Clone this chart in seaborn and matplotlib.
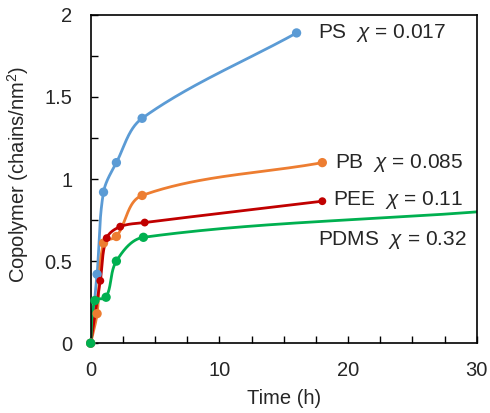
import numpy as np
import pandas as pd
import seaborn as sns
import matplotlib.pyplot as plt

# data (time in h, copolymer in chains/nm^2)
ps_t = [0, 0.5, 1, 2, 4, 16]
ps_y = [0, 0.42, 0.92, 1.10, 1.37, 1.89]
pb_t = [0, 0.5, 1, 2, 4, 18]
pb_y = [0, 0.18, 0.61, 0.65, 0.90, 1.10]
pee_t = [0, 0.75, 1.25, 2.3, 4.2, 18]
pee_y = [0, 0.38, 0.64, 0.71, 0.735, 0.865]
pdms_t = [0, 0.33, 1.2, 2, 4.1, 30]
pdms_y = [0, 0.26, 0.28, 0.50, 0.645, 0.80]

names = ["PS", "PB", "PEE", "PDMS"]
labels = ["PS  $\\chi$ = 0.017", "PB  $\\chi$ = 0.085",
          "PEE  $\\chi$ = 0.11", "PDMS  $\\chi$ = 0.32"]
label_pos = [(17.7, 1.89), (19.0, 1.10), (18.8, 0.87), (17.7, 0.63)]
colors = {"PS": "#5B9BD5", "PB": "#ED7D31", "PEE": "#C00000", "PDMS": "#00B050"}
msize = {"PS": 45, "PB": 45, "PEE": 32, "PDMS": 45}
series = {"PS": (ps_t, ps_y), "PB": (pb_t, pb_y),
          "PEE": (pee_t, pee_y), "PDMS": (pdms_t, pdms_y)}


def smooth(t, y, sx, sy, n=60):
    # smoothed line like a spreadsheet chart: cubic Bezier pieces with
    # tangents along (next - prev), handle length a third of the segment
    p = np.column_stack([np.array(t) * sx, np.array(y) * sy])
    m = len(p)
    tang = []
    for i in range(m):
        d = p[min(i + 1, m - 1)] - p[max(i - 1, 0)]
        tang.append(d / np.linalg.norm(d))
    out = []
    s = np.linspace(0, 1, n)[:, None]
    for i in range(m - 1):
        p1, p2 = p[i], p[i + 1]
        L = np.linalg.norm(p2 - p1) / 3
        c1 = p1 + tang[i] * L
        c2 = p2 - tang[i + 1] * L
        b = ((1 - s) ** 3) * p1 + 3 * ((1 - s) ** 2) * s * c1 + 3 * (1 - s) * s ** 2 * c2 + s ** 3 * p2
        out.append(b)
    b = np.vstack(out)
    return b[:, 0] / sx, b[:, 1] / sy


sns.set_theme(style="ticks")
plt.rcParams['font.family'] = ['Liberation Sans', 'DejaVu Sans']
plt.rcParams['mathtext.fontset'] = 'custom'
plt.rcParams['mathtext.rm'] = 'Liberation Sans'
plt.rcParams['mathtext.it'] = 'Liberation Sans:italic'

fig = plt.figure(figsize=(4.9, 4.13), dpi=100)
ax = fig.add_axes([0.185, 0.169, 0.788, 0.795])

sx, sy = 387 / 30, 328 / 2
curves = []
points = []
for name in names:
    t, y = series[name]
    cx, cy = smooth(t, y, sx, sy)
    curves.append(pd.DataFrame({"Time": cx, "Cop": cy, "Polymer": name}))
    npts = len(t) - 1 if name == "PDMS" else len(t)
    points.append(pd.DataFrame({"Time": t[:npts], "Cop": y[:npts], "Polymer": name}))
curve_df = pd.concat(curves)
point_df = pd.concat(points)

sns.lineplot(data=curve_df, x="Time", y="Cop", hue="Polymer", palette=colors,
             sort=False, estimator=None, linewidth=2, legend=False, ax=ax)
for name in names:
    sub = point_df[point_df["Polymer"] == name]
    sns.scatterplot(data=sub, x="Time", y="Cop", color=colors[name], s=msize[name],
                    edgecolor="none", legend=False, ax=ax, zorder=3, clip_on=False)

for lab, (lx, ly) in zip(labels, label_pos):
    ax.text(lx, ly, lab, fontsize=15, va="center", ha="left")

ax.set_xlim(0, 30)
ax.set_ylim(0, 2)
ax.set_xticks([0, 10, 20, 30])
ax.set_xticks(np.arange(0, 30.1, 2.5), minor=True)
ax.set_yticks([0, 0.5, 1, 1.5, 2])
ax.set_yticklabels(["0", "0.5", "1", "1.5", "2"])
ax.set_yticks(np.arange(0, 2.01, 0.25), minor=True)
ax.tick_params(which="both", direction="in", labelsize=14.5, length=5, width=1, color="black")
ax.tick_params(axis="x", pad=13)
ax.tick_params(axis="y", pad=13)
for sp in ax.spines.values():
    sp.set_visible(True)
    sp.set_color("black")
    sp.set_linewidth(1.2)
ax.set_xlabel("Time (h)", fontsize=14.5, labelpad=6)
ax.set_ylabel("Copolymer (chains/nm$^2$)", fontsize=14.5)
ax.yaxis.set_label_coords(-0.155, 0.514)

fig.savefig("out.png", dpi=100)
